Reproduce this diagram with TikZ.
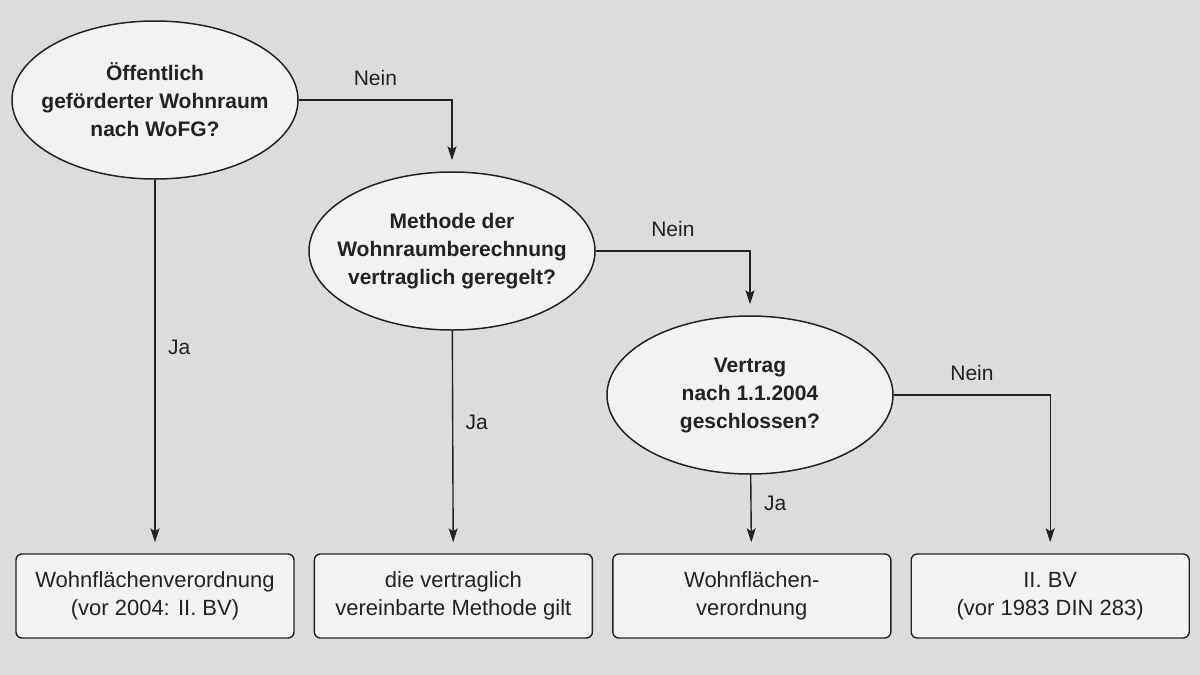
\documentclass[tikz,border=0pt]{standalone}
\usepackage{fontspec}
\setmainfont{Liberation Sans}
\usepackage{xcolor}
\usepackage{tikz}
\usetikzlibrary{shapes.geometric, arrows.meta, positioning}
\definecolor{bggray}{HTML}{DCDCDC}
\definecolor{boxgray}{HTML}{F2F2F2}
\definecolor{linegray}{HTML}{222222}

\begin{document}
\begin{tikzpicture}[
    x=1pt, y=-1pt,
    node distance=19pt,
    question/.style={ellipse, draw=linegray, fill=boxgray, line width=1.5pt, minimum width=286pt, minimum height=158pt, inner xsep=-14pt, inner ysep=0pt, align=center, text=linegray, font=\fontsize{21}{28}\selectfont\bfseries},
    result/.style={rectangle, rounded corners=6pt, draw=linegray, fill=boxgray, line width=1.4pt, minimum width=278pt, minimum height=84pt, align=center, text=linegray, font=\fontsize{22}{28}\selectfont},
    arrow/.style={-{Stealth[length=14pt, width=9pt, inset=3pt]}, line width=1.4pt, linegray, shorten >=11pt},
    lbl/.style={text=linegray, font=\fontsize{21}{26}\selectfont}
]

\fill[bggray] (0,0) rectangle (1200,675);
\useasboundingbox (0,0) rectangle (1200,675);

\node[question] (wofg) at (155,100) {Öffentlich\\geförderter Wohnraum\\nach WoFG?};
\node[question] (methode) at (452,251) {Methode der\\Wohnraumberechnung\\vertraglich geregelt?};
\node[question] (vertrag) at (750,395) {Vertrag\\nach 1.1.2004\\geschlossen?};

\node[result] (wofv) at (155,596) {Wohnflächenverordnung\\(vor 2004: II. BV)};
\node[result, right=of wofv] (vereinbart) {die vertraglich\\vereinbarte Methode gilt};
\node[result, right=of vereinbart] (wofvneu) {Wohnflächen-\\verordnung};
\node[result, right=of wofvneu] (zweibv) {II. BV\\(vor 1983 DIN 283)};

\draw[arrow] (wofg.east) -| node[lbl, pos=0.25, above=10pt] {Nein} (methode.north);
\draw[arrow] (wofg) -- node[lbl, pos=0.45, right=9pt] {Ja} (wofv);
\draw[arrow] (methode.east) -| node[lbl, pos=0.25, above=10pt] {Nein} (vertrag.north);
\draw[arrow] (methode) -- node[lbl, pos=0.41, right=9pt] {Ja} (vereinbart);
\draw[arrow] (vertrag.east) -| node[lbl, pos=0.25, above=10pt] {Nein} (zweibv.north);
\draw[arrow] (vertrag) -- node[lbl, pos=0.37, right=9pt] {Ja} (wofvneu);

\end{tikzpicture}
\end{document}
